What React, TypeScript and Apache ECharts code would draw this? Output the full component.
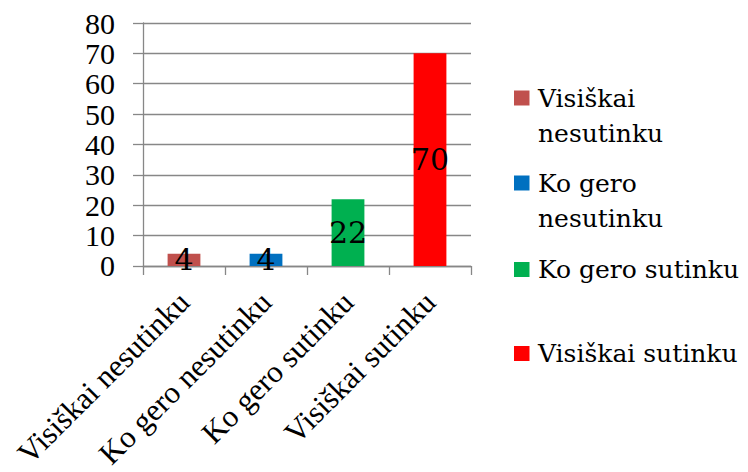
import React, { useEffect, useRef } from "react";
import * as echarts from "echarts";

const categories = ["Visiškai nesutinku", "Ko gero nesutinku", "Ko gero sutinku", "Visiškai sutinku"];
const values = [4, 4, 22, 70];
const colors = ["#C0504D", "#0070C0", "#00B050", "#FF0000"];
const legendLines = [["Visiškai", "nesutinku"], ["Ko gero", "nesutinku"], ["Ko gero sutinku"], ["Visiškai sutinku"]];
const yMin = 0;
const yMax = 80;
const yStep = 10;

const FONT = "Liberation Serif";
const FONT2 = "DejaVu Serif";

export default function App() {
  const ref = useRef<HTMLDivElement>(null);
  useEffect(() => {
    document.body.style.margin = "0";
    const chart = echarts.init(ref.current!, undefined, { renderer: "svg" });
    const legendCenters = [98, 183, 269.5, 353.5];
    const legendChildren: any[] = [];
    legendLines.forEach((lines, i) => {
      const cy = legendCenters[i];
      legendChildren.push({
        type: "rect",
        shape: { x: 514, y: cy - 7.5, width: 15.5, height: 15 },
        style: { fill: colors[i] },
      });
      legendChildren.push({
        type: "text",
        x: 538,
        y: cy - 17.5,
        style: {
          text: lines.join("\n"),
          fontFamily: FONT2,
          fontSize: 25,
          lineHeight: 35,
          fill: "#000",
          verticalAlign: "top",
          align: "left",
        },
      });
    });
    const series = categories.map((c, i) => ({
      name: c,
      type: "bar",
      stack: "all",
      barWidth: "40%",
      data: values.map((v, j) => (j === i ? v : "-")),
      itemStyle: { color: colors[i] },
      label: {
        show: true,
        position: "inside",
        color: "#000",
        fontFamily: FONT2,
        fontSize: 30,
      },
    }));
    chart.setOption({
      animation: false,
      textStyle: { fontFamily: FONT },
      grid: { left: 143, right: 277, top: 23, bottom: 204, containLabel: false },
      xAxis: {
        type: "category",
        data: categories,
        axisLine: { lineStyle: { color: "#878787", width: 1.3 } },
        axisTick: { show: true, length: 9, alignWithLabel: false, lineStyle: { color: "#878787", width: 1.3 } },
        axisLabel: {
          rotate: 45,
          interval: 0,
          margin: 31,
          color: "#000",
          fontFamily: FONT,
          fontSize: 31,
        },
      },
      yAxis: {
        type: "value",
        min: yMin,
        max: yMax,
        interval: yStep,
        axisLine: { show: true, lineStyle: { color: "#878787", width: 1.3 } },
        axisTick: { show: true, length: 10, lineStyle: { color: "#878787", width: 1.3 } },
        splitLine: { show: true, lineStyle: { color: "#878787", width: 1.3 } },
        axisLabel: { margin: 28, color: "#000", fontFamily: FONT, fontSize: 30 },
      },
      series,
      graphic: [{ type: "group", children: legendChildren }],
    });
    return () => chart.dispose();
  }, []);
  return <div ref={ref} style={{ width: 748, height: 472 }} />;
}
